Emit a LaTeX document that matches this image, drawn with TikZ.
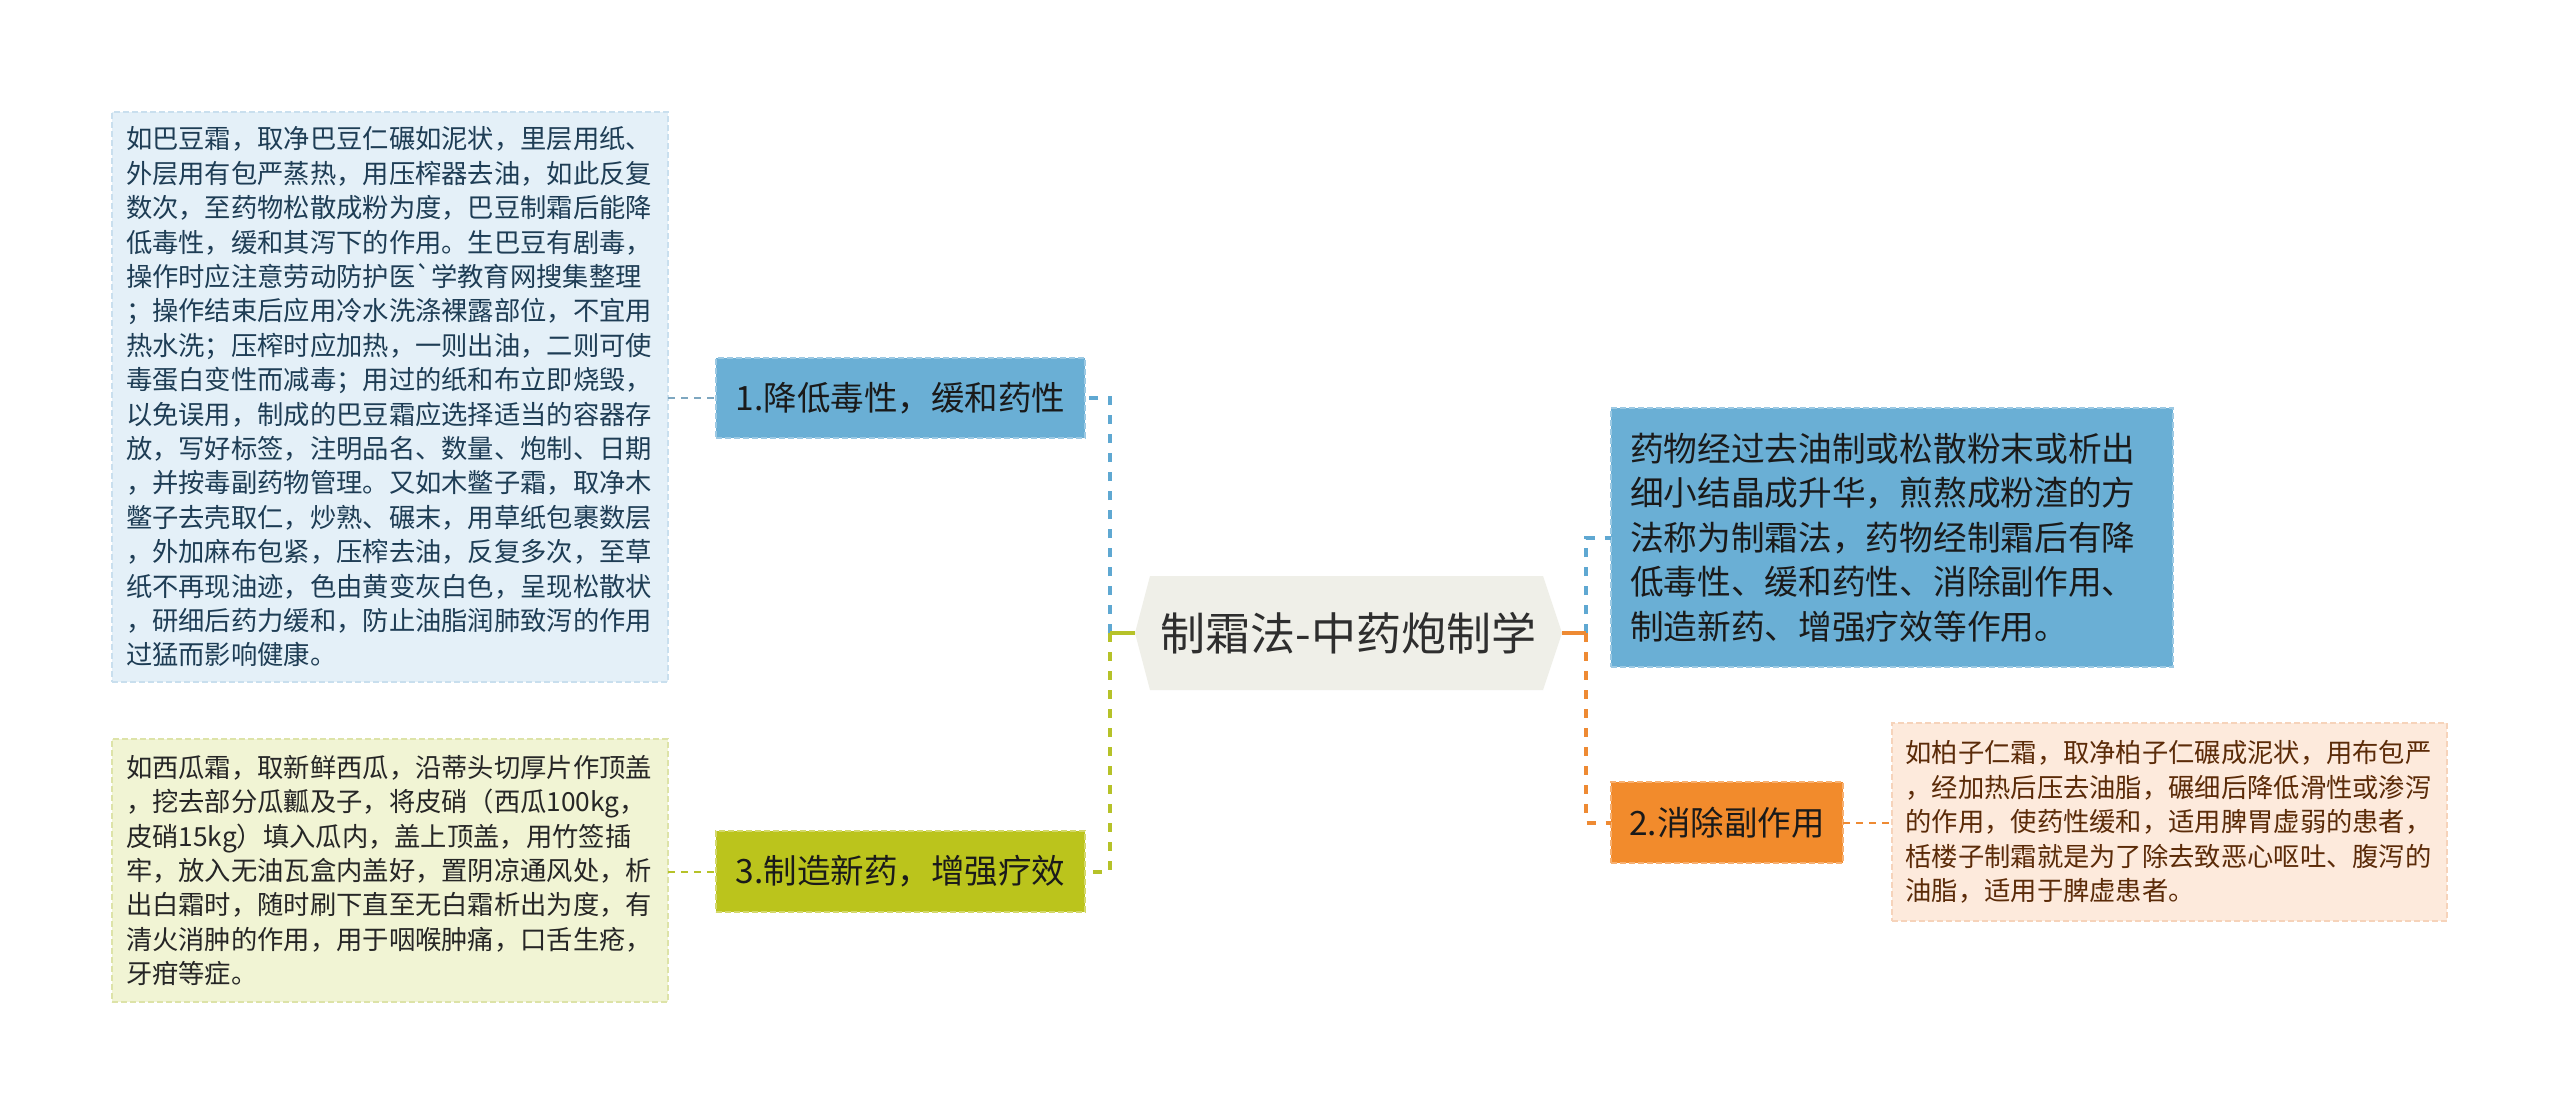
\documentclass[tikz,border=0pt]{standalone}
\usepackage{fontspec}
\newfontfamily\cjk{Noto Sans CJK SC}
\usetikzlibrary{calc,backgrounds}
\definecolor{cBlue}{HTML}{6AAFD5}
\definecolor{cBlueB}{HTML}{9CC9E3}
\definecolor{cBlueNote}{HTML}{E4F0F8}
\definecolor{cBlueNoteB}{HTML}{C9DFEE}
\definecolor{cLime}{HTML}{BBC41C}
\definecolor{cLimeB}{HTML}{D3D86A}
\definecolor{cLimeNote}{HTML}{F1F4D4}
\definecolor{cLimeNoteB}{HTML}{DDE3A8}
\definecolor{cOrange}{HTML}{F28B2C}
\definecolor{cOrangeB}{HTML}{F7B071}
\definecolor{cPeach}{HTML}{FDEADC}
\definecolor{cPeachB}{HTML}{F6D3BA}
\definecolor{cCenter}{HTML}{EFEFE8}
\definecolor{lnBlue}{HTML}{5FA8D2}
\definecolor{lnLime}{HTML}{B6C229}
\definecolor{lnOrange}{HTML}{EE8A33}
\definecolor{lnBlueThin}{HTML}{7EA7C0}
\definecolor{tNavy}{HTML}{1E3D55}
\definecolor{tDark}{HTML}{1A1A1A}
\definecolor{tNote}{HTML}{262626}
\definecolor{tBrown}{HTML}{5B2B08}
\definecolor{tCenter}{HTML}{2E2E2E}
\tikzset{
  boxbase/.style={anchor=north west, inner sep=0pt, outer sep=0pt, line width=1.5pt, dash pattern=on 6pt off 3pt},
  notetext/.style={font={\cjk\fontsize{26.3}{34.4}\selectfont}, text width=528pt, align=left},
  branchtext/.style={font={\cjk\fontsize{33.5}{40}\selectfont}, text=tDark, align=center},
  bluenote/.style={boxbase, fill=cBlueNote, draw=cBlueNoteB, notetext, text=tNavy},
  limenote/.style={boxbase, fill=cLimeNote, draw=cLimeNoteB, notetext, text=tNote},
  peachnote/.style={boxbase, fill=cPeach, draw=cPeachB, font={\cjk\fontsize{26.3}{34.6}\selectfont}, text width=528pt, align=left, text=tBrown},
  bluebranch/.style={boxbase, fill=cBlue, draw=cBlueB, branchtext},
  limebranch/.style={boxbase, fill=cLime, draw=cLimeB, branchtext},
  orangebranch/.style={boxbase, fill=cOrange, draw=cOrangeB, branchtext},
  thick con/.style={line width=4pt, dash pattern=on 9pt off 10pt},
  thin con/.style={line width=2pt, dash pattern=on 7pt off 6pt},
}
\begin{document}
\begin{tikzpicture}[x=1pt,y=-1pt]
\useasboundingbox (0,0) rectangle (2560,1117);

% center node
\node[inner sep=0pt, outer sep=0pt, minimum width=427pt, minimum height=114pt,
      font={\cjk\fontsize{45}{54}\selectfont}, text=tCenter] (c) at (1348.5,633) {制霜法-中药炮制学};
\begin{scope}[on background layer]
\fill[white] (0,0) rectangle (2560,1117);
\fill[cCenter] (c.west) -- ($(c.north west)+(15,0)$) -- ($(c.north east)+(-19,0)$) -- (c.east)
  -- ($(c.south east)+(-19,0)$) -- ($(c.south west)+(15,0)$) -- cycle;
\end{scope}

% branch nodes
\node[bluebranch, minimum width=369pt, minimum height=80pt] (n1) at (716,358) {1.降低毒性，缓和药性};
\node[limebranch, minimum width=369pt, minimum height=81pt] (n3) at (716,831) {3.制造新药，增强疗效};
\node[boxbase, fill=cBlue, draw=cBlueB, minimum width=562pt, minimum height=259pt,
      font={\cjk\fontsize{33.7}{44.5}\selectfont}, text=tDark, text width=524pt, align=left] (rb) at (1611,408)
  {药物经过去油制或松散粉末或析出\\细小结晶成升华，煎熬成粉渣的方\\法称为制霜法，药物经制霜后有降\\低毒性、缓和药性、消除副作用、\\制造新药、增强疗效等作用。};
\node[orangebranch, minimum width=232pt, minimum height=81pt] (on) at (1611,782) {2.消除副作用};

% notes
\node[bluenote, minimum width=556pt, minimum height=570pt] (nt1) at (112,112)
  {如巴豆霜，取净巴豆仁碾如泥状，里层用纸、\\
   外层用有包严蒸热，用压榨器去油，如此反复\\
   数次，至药物松散成粉为度，巴豆制霜后能降\\
   低毒性，缓和其泻下的作用。生巴豆有剧毒，\\
   操作时应注意劳动防护医`学教育网搜集整理\\
   ；操作结束后应用冷水洗涤裸露部位，不宜用\\
   热水洗；压榨时应加热，一则出油，二则可使\\
   毒蛋白变性而减毒；用过的纸和布立即烧毁，\\
   以免误用，制成的巴豆霜应选择适当的容器存\\
   放，写好标签，注明品名、数量、炮制、日期\\
   ，并按毒副药物管理。又如木鳖子霜，取净木\\
   鳖子去壳取仁，炒熟、碾末，用草纸包裹数层\\
   ，外加麻布包紧，压榨去油，反复多次，至草\\
   纸不再现油迹，色由黄变灰白色，呈现松散状\\
   ，研细后药力缓和，防止油脂润肺致泻的作用\\
   过猛而影响健康。};
\node[limenote, minimum width=556pt, minimum height=263pt] (nt3) at (112,739)
  {如西瓜霜，取新鲜西瓜，沿蒂头切厚片作顶盖\\
   ，挖去部分瓜瓤及子，将皮硝（西瓜100kg，\\
   皮硝15kg）填入瓜内，盖上顶盖，用竹签插\\
   牢，放入无油瓦盒内盖好，置阴凉通风处，析\\
   出白霜时，随时刷下直至无白霜析出为度，有\\
   清火消肿的作用，用于咽喉肿痛，口舌生疮，\\
   牙疳等症。};
\node[peachnote, minimum width=555pt, minimum height=198pt] (pn) at (1892,723)
  {如柏子仁霜，取净柏子仁碾成泥状，用布包严\\
   ，经加热后压去油脂，碾细后降低滑性或渗泻\\
   的作用，使药性缓和，适用脾胃虚弱的患者，\\
   栝楼子制霜就是为了除去致恶心呕吐、腹泻的\\
   油脂，适用于脾虚患者。};

% connectors
\coordinate (lv) at (1110,633);
\coordinate (rv) at (1586,633);
\draw[lnBlue, thick con] (lv) -- (lv |- n1.east) -- (n1.east);
\draw[lnLime, thick con] (lv) -- (lv |- n3.east) -- (n3.east);
\draw[lnLime, line width=4pt] (c.west) -- (lv);
\draw[lnBlue, thick con] (rv) -- (rv |- rb.west) -- (rb.west);
\draw[lnOrange, thick con] (rv) -- (rv |- on.west) -- (on.west);
\draw[lnOrange, line width=4pt] (c.east) -- (rv);
\draw[lnBlueThin, thin con] (nt1.east |- n1.west) -- (n1.west);
\draw[lnLime, thin con] (nt3.east |- n3.west) -- (n3.west);
\draw[lnOrange, thin con] (on.east) -- (on.east -| pn.west);
\end{tikzpicture}
\end{document}
